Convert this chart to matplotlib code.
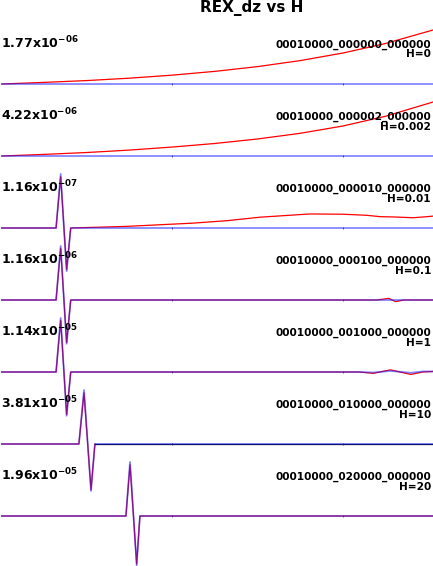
import matplotlib
matplotlib.use("Agg")
import matplotlib.pyplot as plt

# station labels and peak amplitudes
stations = ["00010000_000000_000000", "00010000_000002_000000", "00010000_000010_000000",
            "00010000_000100_000000", "00010000_001000_000000", "00010000_010000_000000",
            "00010000_020000_000000"]
h_labels = ["H=0", "H=0.002", "H=0.01", "H=0.1", "H=1", "H=10", "H=20"]
amp_mant = ["1.77", "4.22", "1.16", "1.16", "1.14", "3.81", "1.96"]
amp_exp = ["-06", "-06", "-07", "-06", "-05", "-05", "-05"]

# normalised traces (time in s), blue and red per station
t0 = [0, 0.25, 0.5, 0.75, 1.0, 1.25, 1.5, 1.75, 2.0, 2.25, 2.53]
blue0 = [0, 0, 0, 0, 0, 0, 0, 0, 0, 0, 0]
red0 = [0, 0.03, 0.064, 0.108, 0.164, 0.234, 0.322, 0.433, 0.573, 0.749, 1.0]

t1 = [0, 0.25, 0.5, 0.75, 1.0, 1.25, 1.5, 1.75, 2.0, 2.25, 2.53]
blue1 = [0, 0, 0, 0, 0, 0, 0, 0, 0, 0, 0]
red1 = [0, 0.03, 0.065, 0.11, 0.166, 0.232, 0.315, 0.42, 0.555, 0.735, 1.0]

t2 = [0, 0.318, 0.345, 0.380, 0.404, 0.732, 1.121, 1.319, 1.515, 1.708, 1.808,
      2.002, 2.142, 2.219, 2.295, 2.413, 2.495, 2.53]
blue2 = [0, 0, 1.0, -0.80, 0, 0, 0, 0, 0, 0, 0, 0, 0, 0, 0, 0, 0, 0]
red2 = [0, 0, 0.95, -0.77, 0, 0.03, 0.09, 0.135, 0.20, 0.24, 0.26,
        0.255, 0.235, 0.21, 0.205, 0.19, 0.21, 0.22]

t3 = [0, 0.318, 0.345, 0.380, 0.404, 2.20, 2.27, 2.31, 2.36, 2.53]
blue3 = [0, 0, 1.0, -0.81, 0, 0, 0, 0, 0, 0]
red3 = [0, 0, 0.96, -0.79, 0, 0, 0.03, -0.03, 0, 0]

t4 = [0, 0.318, 0.345, 0.380, 0.404, 2.10, 2.18, 2.28, 2.40, 2.47, 2.53]
blue4 = [0, 0, 1.0, -0.81, 0, 0, -0.01, 0.02, -0.015, 0.01, 0.01]
red4 = [0, 0, 0.96, -0.79, 0, 0, -0.025, 0.04, -0.045, 0.0, 0.01]

t5 = [0, 0.452, 0.482, 0.523, 0.546, 2.53]
blue5 = [0, 0, 1.0, -0.87, 0, 0]
t5_red = [0, 0.452, 0.482, 0.523, 0.546]
red5 = [0, 0, 0.95, -0.85, 0]

t6 = [0, 0.728, 0.752, 0.791, 0.810, 2.53]
blue6 = [0, 0, 1.0, -0.91, 0, 0]
red6 = [0, 0, 0.95, -0.89, 0, 0]

traces = [
    (t0, blue0, t0, red0),
    (t1, blue1, t1, red1),
    (t2, blue2, t2, red2),
    (t3, blue3, t3, red3),
    (t4, blue4, t4, red4),
    (t5, blue5, t5_red, red5),
    (t6, blue6, t6, red6),
]

W, H = 433, 566
fig = plt.figure(figsize=(W / 100, H / 100), dpi=100)

fig.text(252 / W, 1 - 12 / H, "REX_dz vs H", ha="center", va="baseline",
         fontsize=11, fontweight="bold")

for i, (tb, yb, tr, yr) in enumerate(traces):
    base = 84 + 72 * i  # baseline row in pixels from top
    ax = fig.add_axes([0, (H - (base + 18)) / H, 1, 72 / H])
    ax.patch.set_visible(False)
    ax.set_xlim(-0.011, 2.53)
    ax.set_ylim(-18 / 54, 1)

    ax.plot(tr, yr, color="#ff0000", lw=0.9, clip_on=False)
    if tr[-1] < tb[-1]:
        ax.plot([tr[-1], tb[-1]], [0, 0], color="black", lw=0.9, clip_on=False)
    ax.plot(tb, yb, color="#2020ff", lw=1.3, alpha=0.55, clip_on=False)

    for s in ax.spines.values():
        s.set_visible(False)
    ax.spines["bottom"].set_position(("data", 0))
    ax.set_xticks([1, 2])
    ax.set_yticks([])
    ax.tick_params(axis="x", length=1.5, width=0.6, direction="inout",
                   colors="#4040a0", labelbottom=False)

    tr_y = ax.get_yaxis_transform()
    ax.text(0.002, 36 / 54, f"{amp_mant[i]}x10$^{{\\mathbf{{{amp_exp[i]}}}}}$",
            transform=tr_y, ha="left", va="baseline", fontsize=9, fontweight="bold")
    ax.text(431 / W, 36 / 54, stations[i], transform=tr_y, ha="right",
            va="baseline", fontsize=7.6, fontweight="bold")
    ax.text(431 / W, 26.5 / 54, h_labels[i], transform=tr_y, ha="right",
            va="baseline", fontsize=7.6, fontweight="bold")

fig.savefig("out.png", dpi=100)
